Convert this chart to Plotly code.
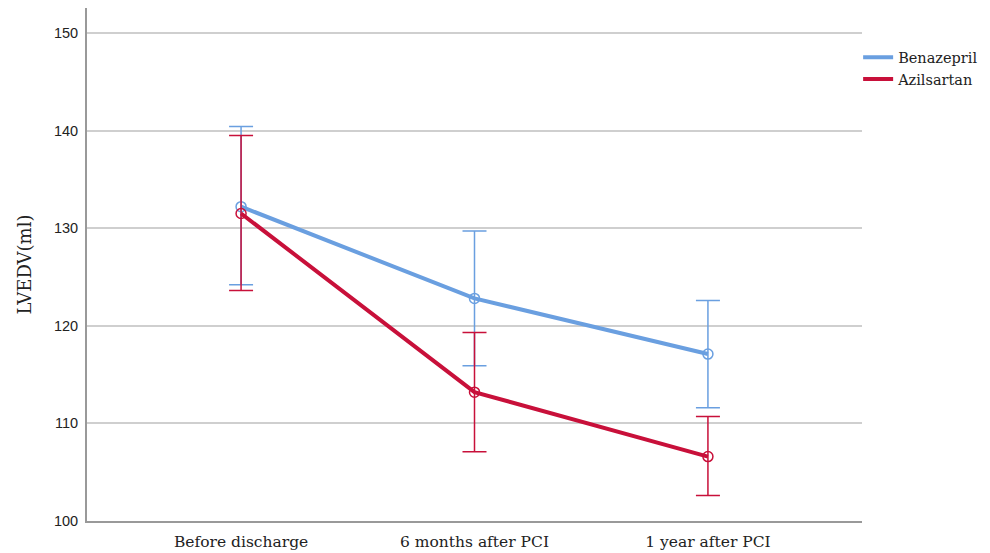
import plotly.graph_objects as go

categories = ["Before discharge", "6 months after PCI", "1 year after PCI"]
benazepril_mean = [132.2, 122.8, 117.1]
benazepril_upper = [140.4, 129.7, 122.6]
benazepril_lower = [124.2, 115.9, 111.6]
azilsartan_mean = [131.5, 113.2, 106.6]
azilsartan_upper = [139.5, 119.3, 110.7]
azilsartan_lower = [123.6, 107.1, 102.6]
y_ticks = [100, 110, 120, 130, 140, 150]

BLUE = "#6A9FE0"
RED = "#C8103A"
SERIF = "DejaVu Serif"

xs = list(range(len(categories)))
fig = go.Figure()

def add_series(name, mean, upper, lower, color):
    fig.add_trace(go.Scatter(
        x=xs, y=mean, mode="lines+markers", name=name, showlegend=False,
        line=dict(color=color, width=4),
        marker=dict(symbol="circle-open", size=10, color=color, line=dict(width=1.5, color=color)),
        error_y=dict(type="data", symmetric=False,
                     array=[u - m for u, m in zip(upper, mean)],
                     arrayminus=[m - l for m, l in zip(mean, lower)],
                     color=color, thickness=1.5, width=12),
    ))
    fig.add_trace(go.Scatter(x=[None], y=[None], mode="lines", name=name,
                             line=dict(color=color, width=4)))

add_series("Benazepril", benazepril_mean, benazepril_upper, benazepril_lower, BLUE)
add_series("Azilsartan", azilsartan_mean, azilsartan_upper, azilsartan_lower, RED)

fig.update_layout(
    width=990, height=553,
    margin=dict(l=79, r=136, t=0, b=40),
    plot_bgcolor="white", paper_bgcolor="white",
    legend=dict(x=0.995, xanchor="left", y=0.935, yanchor="top",
                font=dict(family=SERIF, size=14.5, color="#222"),
                tracegroupgap=0, itemwidth=30, bgcolor="rgba(0,0,0,0)"),
    xaxis=dict(range=[-0.66, 2.66], tickmode="array", tickvals=xs, ticktext=categories,
               showgrid=False, zeroline=False, showline=True, linecolor="#999", linewidth=2,
               ticks="", ticklabelstandoff=5,
               tickfont=dict(family=SERIF, size=15.5, color="#222")),
    yaxis=dict(range=[100, 152.55], tickmode="array", tickvals=y_ticks,
               showgrid=True, gridcolor="#CFCFCF", gridwidth=1.5, zeroline=False,
               showline=True, linecolor="#999", linewidth=2, ticks="", ticklabelstandoff=4,
               tickfont=dict(family="Liberation Sans", size=14.5, color="#222"),
               title=dict(text="LVEDV(ml)", font=dict(family=SERIF, size=18, color="#222"), standoff=18)),
)

fig.write_html("out.html")
